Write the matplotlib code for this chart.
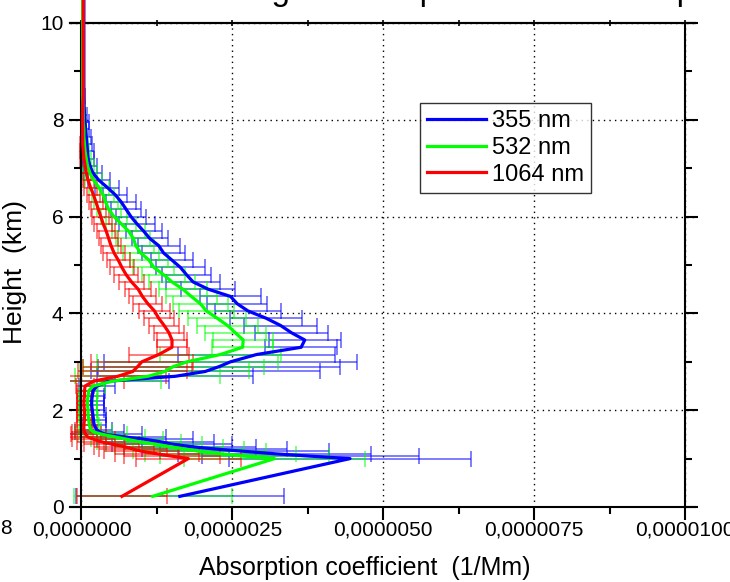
import numpy as np
import matplotlib.pyplot as plt
from matplotlib.ticker import MultipleLocator, FuncFormatter

plt.rcParams['font.family'] = ['Liberation Sans', 'DejaVu Sans']

# heights (km) and absorption coefficients (x 1e-6)
height = [0.22,
          1.00, 1.05, 1.10, 1.15, 1.20, 1.25, 1.30, 1.35, 1.40, 1.45, 1.50, 1.55, 1.60,
          1.7, 1.8, 1.9, 2.0, 2.1, 2.2, 2.3, 2.4, 2.5, 2.6, 2.7, 2.8, 2.9, 3.0,
          3.15, 3.3, 3.45, 3.6, 3.75, 3.9, 4.05, 4.2, 4.35, 4.5, 4.65, 4.8, 4.95,
          5.1, 5.25, 5.4, 5.55, 5.7, 5.85, 6.0, 6.15, 6.3, 6.45, 6.6, 6.75, 6.9,
          7.05, 7.2, 7.35, 7.5, 7.65, 7.8, 7.95, 8.1,
          8.5, 9.0, 9.5, 10.0, 10.5]

abs_355 = [1.63,
           4.45, 3.80, 3.20, 2.70, 2.20, 1.80, 1.50, 1.30, 1.05, 0.70, 0.40, 0.30, 0.25,
           0.21, 0.20, 0.19, 0.18, 0.17, 0.17, 0.18, 0.19, 0.26, 0.45, 1.55, 2.05, 2.28, 2.47,
           2.90, 3.64, 3.70, 3.48, 3.30, 3.06, 2.76, 2.58, 2.47, 2.10, 1.85, 1.74, 1.64,
           1.50, 1.36, 1.28, 1.13, 1.03, 0.92, 0.82, 0.74, 0.66, 0.56, 0.43, 0.29, 0.19,
           0.14, 0.11, 0.10, 0.09, 0.08, 0.07, 0.06, 0.05,
           0.04, 0.04, 0.04, 0.04, 0.04]
err_355 = [1.72,
           2.00, 1.80, 1.60, 1.40, 1.20, 1.10, 1.00, 0.90, 0.80, 0.70, 0.60, 0.40, 0.25,
           0.20, 0.20, 0.22, 0.20, 0.20, 0.20, 0.20, 0.20, 0.30, 1.00, 1.30, 1.90, 2.00, 2.10,
           1.30, 0.60, 0.60, 0.60, 0.60, 0.60, 0.55, 0.50, 0.50, 0.45, 0.45, 0.40, 0.40,
           0.35, 0.35, 0.35, 0.30, 0.30, 0.30, 0.25, 0.25, 0.25, 0.20, 0.20, 0.18, 0.15,
           0.12, 0.10, 0.10, 0.08, 0.08, 0.06, 0.06, 0.04,
           0.02, 0.01, 0.01, 0.01, 0.01]

abs_532 = [1.18,
           3.20, 2.70, 2.30, 1.95, 1.70, 1.45, 1.20, 0.95, 0.75, 0.55, 0.35, 0.20, 0.15,
           0.13, 0.12, 0.11, 0.11, 0.10, 0.10, 0.11, 0.12, 0.19, 0.52, 1.10, 1.38, 1.52, 1.75,
           2.30, 2.67, 2.68, 2.55, 2.42, 2.25, 2.07, 1.97, 1.82, 1.68, 1.50, 1.36, 1.20,
           1.12, 0.98, 0.90, 0.86, 0.78, 0.66, 0.54, 0.45, 0.40, 0.36, 0.29, 0.20, 0.14,
           0.10, 0.08, 0.06, 0.05, 0.04, 0.04, 0.03, 0.03,
           0.02, 0.02, 0.02, 0.02, 0.02]
err_532 = [1.31,
           1.50, 1.40, 1.25, 1.10, 1.00, 0.90, 0.80, 0.70, 0.60, 0.50, 0.40, 0.30, 0.18,
           0.16, 0.15, 0.15, 0.15, 0.15, 0.15, 0.15, 0.15, 0.20, 0.80, 1.20, 1.40, 1.50, 1.50,
           1.00, 0.50, 0.50, 0.50, 0.50, 0.48, 0.45, 0.45, 0.42, 0.40, 0.38, 0.36, 0.34,
           0.32, 0.30, 0.30, 0.28, 0.27, 0.25, 0.22, 0.20, 0.20, 0.18, 0.16, 0.14, 0.12,
           0.10, 0.08, 0.07, 0.06, 0.05, 0.04, 0.03, 0.03,
           0.01, 0.01, 0.01, 0.01, 0.01]

abs_1064 = [0.67,
            1.77, 1.50, 1.25, 1.00, 0.85, 0.70, 0.50, 0.32, 0.20, 0.10, 0.07, 0.05, 0.04,
            0.04, 0.05, 0.05, 0.05, 0.04, 0.04, 0.05, 0.05, 0.06, 0.20, 0.60, 0.85, 0.93, 1.00,
            1.28, 1.50, 1.50, 1.45, 1.37, 1.28, 1.21, 1.10, 1.01, 0.94, 0.83, 0.74, 0.67,
            0.61, 0.54, 0.49, 0.45, 0.41, 0.36, 0.32, 0.28, 0.24, 0.20, 0.15, 0.11, 0.08,
            0.06, 0.04, 0.03, 0.02, 0.02, 0.02, 0.02, 0.02,
            0.03, 0.03, 0.03, 0.03, 0.03]
err_1064 = [0.75,
            0.87, 0.80, 0.70, 0.62, 0.56, 0.50, 0.45, 0.40, 0.35, 0.30, 0.25, 0.20, 0.15,
            0.12, 0.12, 0.12, 0.12, 0.12, 0.12, 0.12, 0.12, 0.15, 0.50, 0.80, 0.90, 0.90, 0.85,
            0.50, 0.25, 0.25, 0.25, 0.25, 0.25, 0.25, 0.24, 0.23, 0.22, 0.21, 0.20, 0.20,
            0.19, 0.18, 0.17, 0.16, 0.15, 0.15, 0.14, 0.13, 0.12, 0.11, 0.10, 0.09, 0.08,
            0.07, 0.06, 0.05, 0.04, 0.03, 0.03, 0.02, 0.02,
            0.01, 0.01, 0.01, 0.01, 0.01]

series = [('355 nm', abs_355, err_355, '#0000ff'),
          ('532 nm', abs_532, err_532, '#00ff00'),
          ('1064 nm', abs_1064, err_1064, '#ff0000')]

W, H = 730, 582
fig = plt.figure(figsize=(W / 100, H / 100), dpi=100)
ax = fig.add_axes([70 / W, (H - 507) / H, 625 / W, 484 / H])

h = np.array(height)
for name, v, e, c in series:
    ax.errorbar(np.array(v) * 1e-6, h, xerr=np.array(e) * 1e-6, fmt='none',
                ecolor=c, alpha=0.55, elinewidth=1.3, capsize=6, capthick=1.3, zorder=2)
lines = []
for name, v, e, c in series:
    ln, = ax.plot(np.array(v) * 1e-6, h, color=c, lw=2.3, label=name, zorder=3,
                  clip_on=False)
    lines.append(ln)

ax.set_xlim(-0.19e-6, 1.0166e-5)
ax.set_ylim(0, 10)

# Origin style frame: vertical axes at x = 0 and x = 1e-5
ax.spines['left'].set_position(('data', 0))
ax.spines['right'].set_position(('data', 1e-5))
for s in ax.spines.values():
    s.set_linewidth(1.5)

ax.xaxis.set_major_locator(MultipleLocator(2.5e-6))
ax.xaxis.set_minor_locator(MultipleLocator(1.25e-6))
ax.yaxis.set_major_locator(MultipleLocator(2))
ax.yaxis.set_minor_locator(MultipleLocator(1))
ax.xaxis.set_major_formatter(FuncFormatter(lambda x, p: f'{x:.7f}'.replace('.', ',')))
ax.tick_params(which='major', direction='out', length=9, width=1.5, labelsize=15, pad=4)
ax.tick_params(axis='x', which='major', pad=1)
ax.tick_params(which='minor', direction='out', length=5, width=1.5)
ax.tick_params(axis='y', which='both', right=True, labelright=False)

# small ticks along the top line
top = ax.secondary_xaxis('top')
top.xaxis.set_major_locator(MultipleLocator(1.25e-6))
top.tick_params(direction='inout', length=5, width=1.2, labeltop=False)
top.spines['top'].set_linewidth(1.5)

ax.grid(True, which='major', color='black', linestyle=(0, (1, 3)), linewidth=1)
ax.set_axisbelow(True)

leg = ax.legend(handles=lines, loc='upper left', bbox_to_anchor=(420 / W, 1 - 103 / H),
                bbox_transform=fig.transFigure, borderaxespad=0, fontsize=17,
                frameon=True, fancybox=False, handlelength=2.5, handletextpad=0.25,
                labelspacing=0.2, borderpad=0.3)
leg.get_frame().set_edgecolor('black')
leg.get_frame().set_linewidth(1.0)
for l in leg.get_lines():
    l.set_linewidth(2.3)

fig.text(365 / W, 1 - 568 / H, 'Absorption coefficient  (1/Mm)', ha='center', va='center',
         fontsize=18)
fig.text(15 / W, 1 - 272 / H, 'Height  (km)', ha='center', va='center', rotation=90,
         fontsize=19)
fig.text(185 / W, 1.0, 'Averaged absorption coefficients profile', ha='left',
         va='baseline', fontsize=24)
fig.text(0, 1 - 529 / H, '8', ha='left', va='center', fontsize=15)

fig.savefig('out.png', dpi=100)
